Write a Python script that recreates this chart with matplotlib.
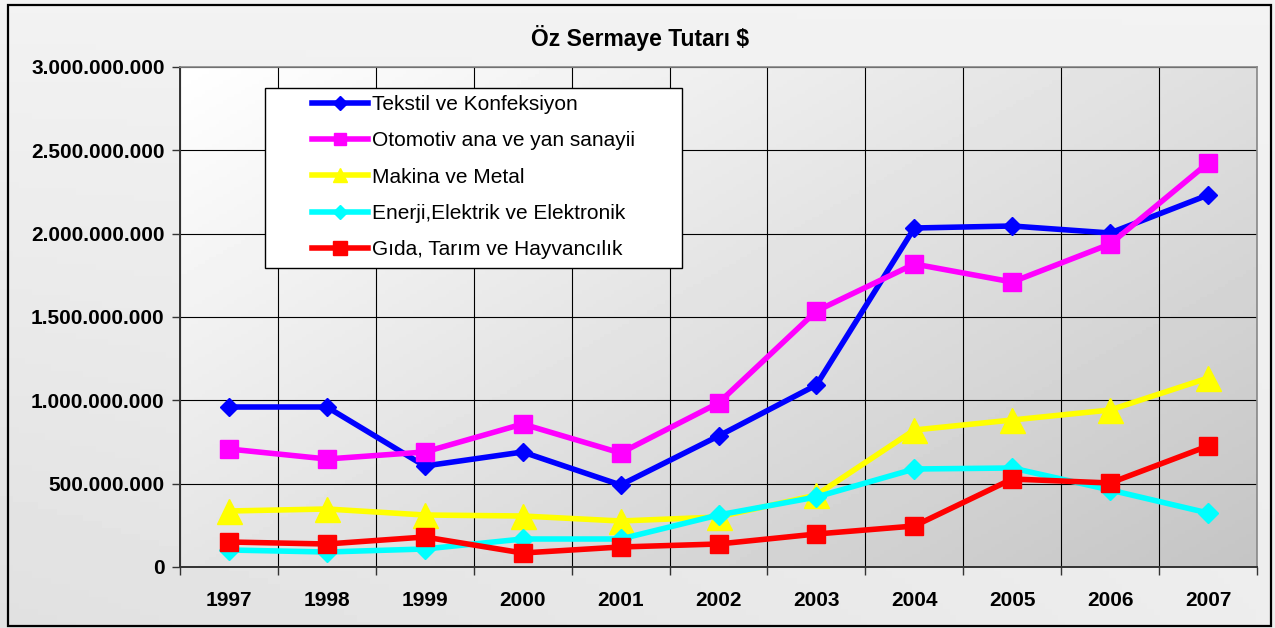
import numpy as np
import matplotlib
matplotlib.use("Agg")
import matplotlib.pyplot as plt
from matplotlib.lines import Line2D
from matplotlib.patches import Rectangle
from matplotlib.ticker import FuncFormatter, FixedLocator

plt.rcParams['font.family'] = ['Liberation Sans', 'DejaVu Sans']

# Veriler
years = ['1997', '1998', '1999', '2000', '2001', '2002', '2003', '2004', '2005', '2006', '2007']

tekstil = [960e6, 960e6, 606e6, 690e6, 492e6, 786e6, 1092e6, 2034e6, 2046e6, 2004e6, 2232e6]
otomotiv = [708e6, 648e6, 690e6, 858e6, 684e6, 984e6, 1536e6, 1818e6, 1710e6, 1938e6, 2424e6]
makina = [336e6, 348e6, 312e6, 306e6, 276e6, 300e6, 432e6, 822e6, 882e6, 942e6, 1134e6]
enerji = [102e6, 90e6, 108e6, 168e6, 168e6, 312e6, 420e6, 588e6, 594e6, 462e6, 324e6]
gida = [150e6, 138e6, 180e6, 84e6, 120e6, 138e6, 198e6, 246e6, 528e6, 504e6, 726e6]

labels = ['Tekstil ve Konfeksiyon', 'Otomotiv ana ve yan sanayii', 'Makina ve Metal',
          'Enerji,Elektrik ve Elektronik', 'Gıda, Tarım ve Hayvancılık']
yticks = [0, 500e6, 1000e6, 1500e6, 2000e6, 2500e6, 3000e6]

W, H = 1275, 628
fig = plt.figure(figsize=(W / 100, H / 100), dpi=100)

# figür arka planı (hafif gri gradyan)
bg = fig.add_axes([0, 0, 1, 1], zorder=-5)
gx, gy = np.meshgrid(np.linspace(0, 1, 200), np.linspace(0, 1, 100))
bg.imshow(0.95 - 0.07 * gy + 0.05 * gx * gy, cmap='gray', vmin=0, vmax=1,
          extent=[0, 1, 0, 1], aspect='auto', origin='upper')
bg.set_xlim(0, 1)
bg.set_ylim(0, 1)
bg.axis('off')
fig.patches.append(Rectangle((8 / W, 1 - 626 / H), (1271 - 8) / W, (626 - 5) / H,
                             transform=fig.transFigure, fill=False,
                             edgecolor='black', linewidth=1.6))

ax = fig.add_axes([180 / W, 1 - 567 / H, (1257 - 180) / W, (567 - 67) / H])
ax.patch.set_alpha(0)

# çizim alanı gradyanı: sol üst beyaz, sağ alt gri
px, py = np.meshgrid(np.linspace(0, 1, 300), np.linspace(0, 1, 150))
grad = 1 - 0.23 * (0.55 * px + 0.45 * py)
ax.imshow(grad, cmap='gray', vmin=0, vmax=1, extent=[0, 1, 0, 1],
          transform=ax.transAxes, aspect='auto', origin='upper', zorder=0)

x = np.arange(len(years))
series = [
    (tekstil, '#0000ff', 'D', 9.5),
    (otomotiv, '#ff00ff', 's', 12.5),
    (makina, '#ffff00', '^', 18),
    (enerji, '#00ffff', 'D', 10),
    (gida, '#ff0000', 's', 12.5),
]
for i, (vals, col, mk, ms) in enumerate(series):
    ax.plot(x, vals, color=col, linewidth=4, marker=mk, markersize=ms,
            markeredgecolor=col, zorder=3 + i)

ax.set_xlim(-0.5, len(years) - 0.5)
ax.set_ylim(0, 3e9)

ax.xaxis.set_major_locator(FixedLocator(x))
ax.set_xticklabels(years, fontsize=15, fontweight='bold')
ax.xaxis.set_minor_locator(FixedLocator(np.arange(-0.5, len(years), 1)))
ax.tick_params(axis='x', which='major', length=0, pad=17)
ax.tick_params(axis='x', which='minor', length=6, width=1, color='#333333')
ax.set_yticks(yticks)
ax.yaxis.set_major_formatter(FuncFormatter(lambda v, p: f'{int(v):,}'.replace(',', '.')))
ax.tick_params(axis='y', length=6, width=1, pad=5, color='#333333')
for t in ax.get_yticklabels():
    t.set_fontsize(15)
    t.set_fontweight('bold')

ax.grid(True, axis='y', which='major', color='black', linewidth=0.8, zorder=1)
ax.grid(True, axis='x', which='minor', color='black', linewidth=0.8, zorder=1)
ax.set_axisbelow(True)

for s in ['top', 'right']:
    ax.spines[s].set_color('#888888')
    ax.spines[s].set_linewidth(1.2)
for s in ['left', 'bottom']:
    ax.spines[s].set_color('#333333')
    ax.spines[s].set_linewidth(1.4)

fig.text(640 / W, 1 - 38 / H, 'Öz Sermaye Tutarı $', ha='center', va='center',
         fontsize=16.5, fontweight='bold')

# lejant
fig.patches.append(Rectangle((265 / W, 1 - 268 / H), (682 - 265) / W, (268 - 88) / H,
                             transform=fig.transFigure, facecolor='white',
                             edgecolor='black', linewidth=1.0, zorder=10))
handles = []
leg_ms = [7, 8, 10, 7, 10]
for (vals, col, mk, ms), lms in zip(series, leg_ms):
    handles.append(Line2D([], [], color=col, linewidth=4, marker=mk, markersize=lms,
                          markeredgecolor=col))
leg = fig.legend(handles, labels, loc='upper left', bbox_to_anchor=(312 / W, 1 - 95 / H),
                 frameon=False, fontsize=15, handlelength=2.7, handletextpad=0.2,
                 labelspacing=0.83, borderaxespad=0, borderpad=0)
leg.set_zorder(11)

fig.savefig('out.png', dpi=100)
